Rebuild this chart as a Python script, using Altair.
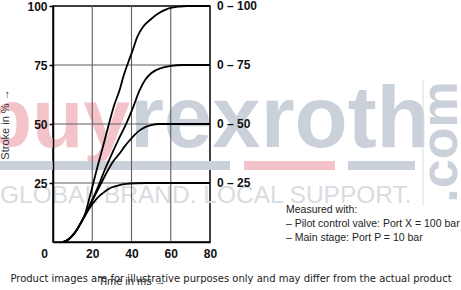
import altair as alt
import pandas as pd

# ---- data ----
t_100 = [5, 8, 10, 12, 14, 16, 19, 22.2, 25, 28.5, 31, 33.9, 36, 38.5, 40.5, 43, 46, 50, 54, 59, 64, 68, 80]
v_100 = [0, 1.2, 2.8, 5, 7.8, 11, 20, 30.4, 39, 50, 57.5, 64.3, 70.5, 76.5, 81, 87, 91.3, 94.5, 97, 99, 99.7, 100, 100]

t_75 = [5, 8, 10, 12, 14, 16, 20, 23, 26.3, 30, 34, 37.5, 41, 44, 47, 50, 55, 60, 66, 80]
v_75 = [0, 1.2, 2.8, 5, 7.8, 11, 17.8, 23.5, 30.4, 37.3, 44.5, 50.5, 57.5, 64, 68.7, 71.5, 73.7, 74.6, 75, 75]

t_50 = [5, 8, 10, 12, 14, 16, 20, 24, 28, 31, 33.9, 36.5, 39, 41.5, 44, 47, 50, 54, 80]
v_50 = [0, 1.2, 2.8, 5, 7.8, 11, 17.5, 24, 30.4, 34.5, 37.5, 40.5, 43, 45.3, 47.2, 48.7, 49.5, 50, 50]

t_25 = [5, 8, 10, 12, 14, 16, 18, 20.3, 23, 25.4, 28, 30.5, 33.5, 37.3, 42, 48, 80]
v_25 = [0, 1.2, 2.8, 5, 7.8, 10.6, 13.5, 16.3, 19, 20.7, 22.3, 23.3, 24, 24.6, 24.9, 25, 25]

series_names = ["0 – 100", "0 – 75", "0 – 50", "0 – 25"]
series_levels = [100, 75, 50, 25]
x_ticks = [20, 40, 60, 80]
x_origin_label = ["0"]
y_ticks = [25, 50, 75, 100]
x_grid = [20, 40, 60]
y_grid = [25, 50, 75]

x_title = "Time in ms →"
y_title = "Stroke in % →"
note_lines = ["Measured with:", "– Pilot control valve: Port X = 100 bar", "– Main stage: Port P = 10 bar"]
disclaimer = "Product images are for illustrative purposes only and may differ from the actual product"
wm_buy = "buy"
wm_rexroth = "rexroth"
wm_com = ".com"
wm_slogan = "GLOBAL BRAND. LOCAL SUPPORT."

# ---- tables ----
rows = []
for name, ts, vs in zip(series_names, [t_100, t_75, t_50, t_25], [v_100, v_75, v_50, v_25]):
    for i, (t, v) in enumerate(zip(ts, vs)):
        rows.append({"series": name, "time": t, "stroke": v, "order": i})
curves = pd.DataFrame(rows)
end_labels = pd.DataFrame({"series": series_names, "level": series_levels, "time": [80] * 4})

W, H = 157, 236
PL, PT = 53, 6

FONT = "Liberation Sans"

xs = alt.Scale(domain=[0, 80], nice=False, zero=False)
ys = alt.Scale(domain=[0, 100], nice=False)

one = pd.DataFrame({"k": [0]})


def wm_text(txt, x, y, size, color, weight="bold", align="left", angle=0, font=FONT):
    kw = dict(text=txt, font=font, fontSize=size, fontWeight=weight, color=color,
              align=align, baseline="alphabetic")
    if angle:
        kw["angle"] = angle
    return alt.Chart(one).mark_text(**kw).encode(x=alt.value(x), y=alt.value(y))


def wm_rect(x1, x2, y1, y2, color):
    return alt.Chart(one).mark_rect(color=color).encode(
        x=alt.value(x1), x2=alt.value(x2), y=alt.value(y1), y2=alt.value(y2))


pink = "#f4c3ca"
blue = "#cbd1da"
light = "#d8dce1"

watermark = [
    wm_text(wm_buy, 130 - PL, 147 - PT, 84, pink, align="right"),
    wm_text(wm_rexroth, 130 - PL, 147 - PT, 87, blue),
    wm_rect(0 - PL, 230 - PL, 161 - PT, 170 - PT, blue),
    wm_rect(244 - PL, 335 - PL, 161 - PT, 170 - PT, pink),
    wm_rect(348 - PL, 415 - PL, 161 - PT, 170 - PT, blue),
    wm_text(wm_slogan, 0 - PL, 203 - PT, 24.5, light, weight="normal"),
    alt.Chart(one).mark_rule(color=light, strokeWidth=1).encode(
        x=alt.value(423 - PL), y=alt.value(80 - PT), y2=alt.value(205 - PT)),
    wm_text(wm_com, 457 - PL, 142 - PT, 52, blue, align="center", angle=270),
]

GRID = "#5e5e5e"
vgrid = alt.Chart(pd.DataFrame({"g": x_grid})).mark_rule(color=GRID, strokeWidth=1.1).encode(
    x=alt.X("g:Q", scale=xs))
hgrid = alt.Chart(pd.DataFrame({"g": y_grid})).mark_rule(color=GRID, strokeWidth=1.1).encode(
    y=alt.Y("g:Q", scale=ys))

lines = alt.Chart(curves).mark_line(color="black", strokeWidth=1.8, interpolate="monotone").encode(
    x=alt.X("time:Q", scale=xs, axis=alt.Axis(
        values=x_ticks, grid=False,
        domainColor="black", domainWidth=1.5, ticks=False, labelOverlap=False,
        labelFont=FONT, labelFontWeight="bold", labelFontSize=12, labelColor="#111",
        labelPadding=6, labelFlush=False, zindex=1,
        title=x_title, titleFont=FONT, titleFontWeight="normal", titleFontSize=11,
        titleColor="#333", titlePadding=16)),
    y=alt.Y("stroke:Q", scale=ys, axis=alt.Axis(
        values=y_ticks, grid=False,
        domainColor="black", domainWidth=1.5, ticks=True, tickSize=4,
        tickColor="black", tickWidth=1.5, labelOverlap=False, labelFlush=False,
        labelFont=FONT, labelFontWeight="bold", labelFontSize=12, labelColor="#111",
        labelPadding=2, zindex=1,
        title=y_title, titleFont=FONT, titleFontWeight="normal", titleFontSize=11,
        titleColor="#333", titlePadding=16)),
    detail="series:N",
    order="order:Q",
)

origin = alt.Chart(pd.DataFrame({"t": x_origin_label, "x": [0], "y": [0]})).mark_text(
    align="right", baseline="top", dx=-5, dy=7, font=FONT, fontWeight="bold", fontSize=12, color="#111"
).encode(x=alt.X("x:Q", scale=xs), y=alt.Y("y:Q", scale=ys), text="t:N")

labels = alt.Chart(end_labels).mark_text(
    align="left", baseline="middle", dx=7, font=FONT, fontWeight="bold", fontSize=12, color="#111"
).encode(x=alt.X("time:Q", scale=xs), y=alt.Y("level:Q", scale=ys), text="series:N")

note_y = [210, 224, 238]
notes = [
    alt.Chart(pd.DataFrame({"t": [txt]})).mark_text(
        align="left", baseline="middle", font=FONT, fontSize=10.5, color="#222"
    ).encode(x=alt.value(286 - PL), y=alt.value(yy - PT), text="t:N")
    for txt, yy in zip(note_lines, note_y)
]

disc = alt.Chart(pd.DataFrame({"t": [disclaimer]})).mark_text(
    align="center", baseline="middle", font="DejaVu Sans", fontSize=10, color="#222"
).encode(x=alt.value(231 - PL), y=alt.value(279 - PT), text="t:N")

chart = alt.layer(*watermark, vgrid, hgrid, lines, origin, labels, *notes, disc).properties(
    width=W, height=H,
    autosize=alt.AutoSizeParams(type="none"),
    padding={"left": PL, "top": PT, "right": 461 - PL - W, "bottom": 290 - PT - H},
    background="white",
).configure_view(stroke="black", strokeWidth=1.5)

chart.save("out.html", embed_options={"renderer": "svg", "actions": False})
